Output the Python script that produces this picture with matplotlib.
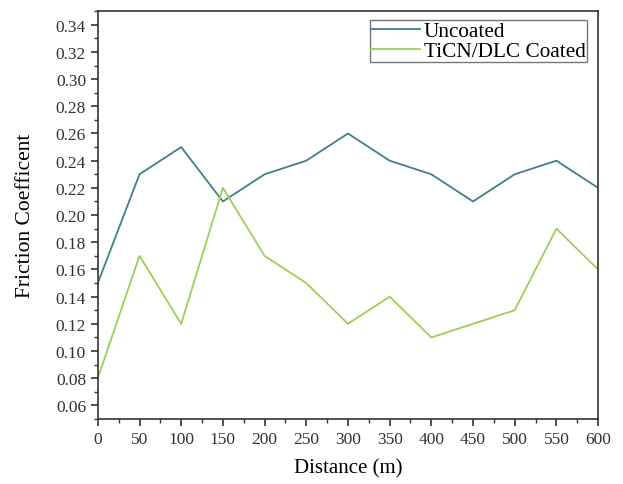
import matplotlib.pyplot as plt
from matplotlib.ticker import MultipleLocator

distance = [0, 50, 100, 150, 200, 250, 300, 350, 400, 450, 500, 550, 600]
uncoated = [0.15, 0.23, 0.25, 0.21, 0.23, 0.24, 0.26, 0.24, 0.23, 0.21, 0.23, 0.24, 0.22]
coated = [0.08, 0.17, 0.12, 0.22, 0.17, 0.15, 0.12, 0.14, 0.11, 0.12, 0.13, 0.19, 0.16]

plt.rcParams['font.family'] = ['Liberation Serif', 'DejaVu Serif']

fig = plt.figure(figsize=(6.23, 4.85), dpi=100)
ax = fig.add_axes([0.157, 0.134, 0.803, 0.841])

ax.plot(distance, uncoated, color='#3f7f8a', lw=1.3, label='Uncoated')
ax.plot(distance, coated, color='#9dd052', lw=1.3, label='TiCN/DLC Coated')

ax.set_xlim(0, 600)
ax.set_ylim(0.05, 0.35)
ax.xaxis.set_major_locator(MultipleLocator(50))
ax.xaxis.set_minor_locator(MultipleLocator(25))
ax.set_yticks([0.06 + 0.02 * i for i in range(15)])
ax.yaxis.set_minor_locator(MultipleLocator(0.01))
ax.yaxis.set_major_formatter(plt.FormatStrFormatter('%.2f'))
ax.tick_params(which='major', direction='out', length=5, width=1.2, labelsize=12.5, colors='#333333')
ax.tick_params(which='minor', direction='out', length=3, width=1.0, colors='#333333')
for sp in ax.spines.values():
    sp.set_linewidth(1.2)
    sp.set_color('#333333')

ax.set_xlabel('Distance (m)', fontsize=15, labelpad=8)
ax.set_ylabel('Friction Coefficent', fontsize=15.5, labelpad=15)

leg = ax.legend(loc='upper right', bbox_to_anchor=(0.99, 0.993), fontsize=15.3, fancybox=False,
                handlelength=2.3, handletextpad=0.2, borderpad=0.05, labelspacing=0.0, borderaxespad=0.3)
leg.get_frame().set_edgecolor('#555555')
leg.get_frame().set_linewidth(1.0)

fig.savefig('out.png', dpi=100)
